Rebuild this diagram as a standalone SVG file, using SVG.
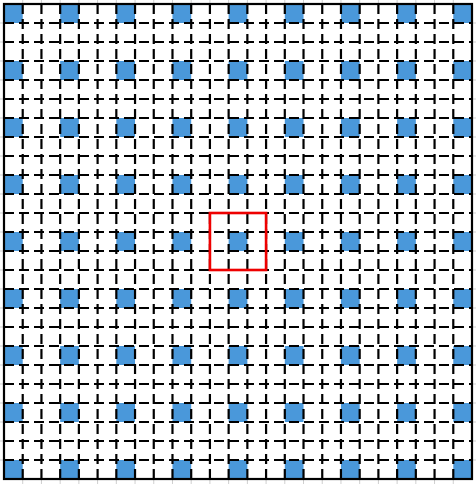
<svg xmlns="http://www.w3.org/2000/svg" xmlns:xlink="http://www.w3.org/1999/xlink" width="476" height="484" viewBox="0 0 476 484">
<style>
.grid{stroke:#cfcfcf;stroke-width:1;fill:none}
.blue{fill:#4a98da}
.dash{stroke:#000;stroke-width:2.2;fill:none;stroke-dasharray:10 5}
.border{stroke:#000;stroke-width:2.2;fill:none}
.sel{stroke:#ee0000;stroke-width:2.6;fill:none}
</style>
<defs>
<g id="row">
<rect class="blue" x="4" y="0" width="18.72" height="19"/>
<rect class="blue" x="60.16" y="0" width="18.72" height="19"/>
<rect class="blue" x="116.32" y="0" width="18.72" height="19"/>
<rect class="blue" x="172.48" y="0" width="18.72" height="19"/>
<rect class="blue" x="228.64" y="0" width="18.72" height="19"/>
<rect class="blue" x="284.8" y="0" width="18.72" height="19"/>
<rect class="blue" x="340.96" y="0" width="18.72" height="19"/>
<rect class="blue" x="397.12" y="0" width="18.72" height="19"/>
<rect class="blue" x="453.28" y="0" width="18.72" height="19"/>
</g>
</defs>
<rect x="0" y="0" width="476" height="484" fill="#fff"/>
<path class="grid" d="M22.72 0V484M41.44 0V484M60.16 0V484M78.88 0V484M97.6 0V484M116.32 0V484M135.04 0V484M153.76 0V484M172.48 0V484M191.2 0V484M209.92 0V484M228.64 0V484M247.36 0V484M266.08 0V484M284.8 0V484M303.52 0V484M322.24 0V484M340.96 0V484M359.68 0V484M378.4 0V484M397.12 0V484M415.84 0V484M434.56 0V484M453.28 0V484M0 23H476M0 42H476M0 61H476M0 80H476M0 99H476M0 118H476M0 137H476M0 156H476M0 175H476M0 194H476M0 213H476M0 232H476M0 251H476M0 270H476M0 289H476M0 308H476M0 327H476M0 346H476M0 365H476M0 384H476M0 403H476M0 422H476M0 441H476M0 460H476"/>
<rect x="4" y="4" width="468" height="475" fill="#fff"/>
<g id="squares">
<use xlink:href="#row" href="#row" y="4"/>
<use xlink:href="#row" href="#row" y="61"/>
<use xlink:href="#row" href="#row" y="118"/>
<use xlink:href="#row" href="#row" y="175"/>
<use xlink:href="#row" href="#row" y="232"/>
<use xlink:href="#row" href="#row" y="289"/>
<use xlink:href="#row" href="#row" y="346"/>
<use xlink:href="#row" href="#row" y="403"/>
<use xlink:href="#row" href="#row" y="460"/>
</g>
<g id="connectors">
<path class="dash" d="M22.72 4V479M41.44 4V479M60.16 4V479M78.88 4V479M97.6 4V479M116.32 4V479M135.04 4V479M153.76 4V479M172.48 4V479M191.2 4V479M209.92 4V479M228.64 4V479M247.36 4V479M266.08 4V479M284.8 4V479M303.52 4V479M322.24 4V479M340.96 4V479M359.68 4V479M378.4 4V479M397.12 4V479M415.84 4V479M434.56 4V479M453.28 4V479M4 23H472M4 42H472M4 61H472M4 80H472M4 99H472M4 118H472M4 137H472M4 156H472M4 175H472M4 194H472M4 213H472M4 232H472M4 251H472M4 270H472M4 289H472M4 308H472M4 327H472M4 346H472M4 365H472M4 384H472M4 403H472M4 422H472M4 441H472M4 460H472"/>
</g>
<rect class="border" x="4" y="4" width="468" height="475"/>
<rect id="selection" class="sel" x="209.92" y="213" width="56.16" height="57"/>
</svg>
